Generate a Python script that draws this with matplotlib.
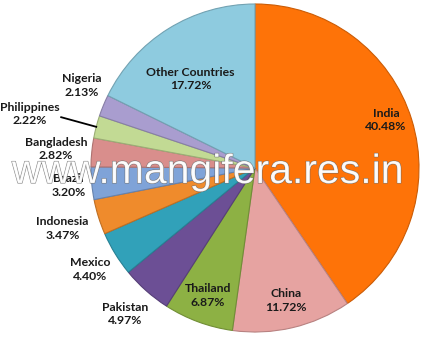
import numpy as np
import matplotlib.pyplot as plt
import matplotlib.colors as mcolors
import matplotlib.patheffects as pe

countries = ['India', 'China', 'Thailand', 'Pakistan', 'Mexico', 'Indonesia',
             'Brazil', 'Bangladesh', 'Philippines', 'Nigeria', 'Other Countries']
shares = [40.48, 11.72, 6.87, 4.97, 4.40, 3.47, 3.20, 2.82, 2.22, 2.13, 17.72]
colors = ['#fe7308', '#e6a3a1', '#8db144', '#6c4f95', '#31a1b9', '#ef8b2c',
          '#7fa3d8', '#d98e8c', '#c2da94', '#a99dcf', '#8ecbdf']
# how far from the centre each label sits (pie radius = 1)
label_r = [0.85, 0.83, 0.83, 1.19, 1.18, 1.23, 1.14, 1.22, 1.41, 1.17, 0.67]
label_shift = [3, 0, 0, 0, 0, 0, 0, 0, 1, -3, 4]

plt.rcParams['font.family'] = ['Lato', 'DejaVu Sans']

fig = plt.figure(figsize=(4.24, 3.39), dpi=100)
ax = fig.add_axes([0.2146, 0.0206, 0.7736, 0.9676])

wedges, _ = ax.pie(shares, colors=colors, startangle=90, counterclock=False,
                   radius=1)
for w, c in zip(wedges, colors):
    w.set_edgecolor(np.array(mcolors.to_rgba(c)) * np.array([0.8, 0.8, 0.8, 1]))
    w.set_linewidth(0.8)

for w, name, val, r, sh in zip(wedges, countries, shares, label_r, label_shift):
    mid = np.deg2rad((w.theta1 + w.theta2) / 2 + sh)
    x, y = r * np.cos(mid), r * np.sin(mid)
    ax.text(x, y, f'{name}\n{val:.2f}%', ha='center', va='center',
            fontsize=8.8, fontweight='bold', color='#1a1a1a', linespacing=1.3)
    if name == 'Philippines':
        m0 = np.deg2rad((w.theta1 + w.theta2) / 2)
        ax.plot([1.0 * np.cos(m0), 1.21 * np.cos(mid + 0.02)],
                [1.0 * np.sin(m0), 1.21 * np.sin(mid + 0.02) + 0.05],
                color='black', lw=1.3, clip_on=False)

ax.set_xlim(-1, 1)
ax.set_ylim(-1, 1)
ax.set_aspect('equal')
ax.axis('off')

# watermark
fig.text(0.028, 0.46, 'www.mangifera.res.in', ha='left', va='baseline',
         fontsize=29.5, color='white', alpha=0.85, family='Liberation Sans',
         path_effects=[pe.withStroke(linewidth=0.7, foreground='#666666')])

fig.savefig('out.png', dpi=100, facecolor='white')
